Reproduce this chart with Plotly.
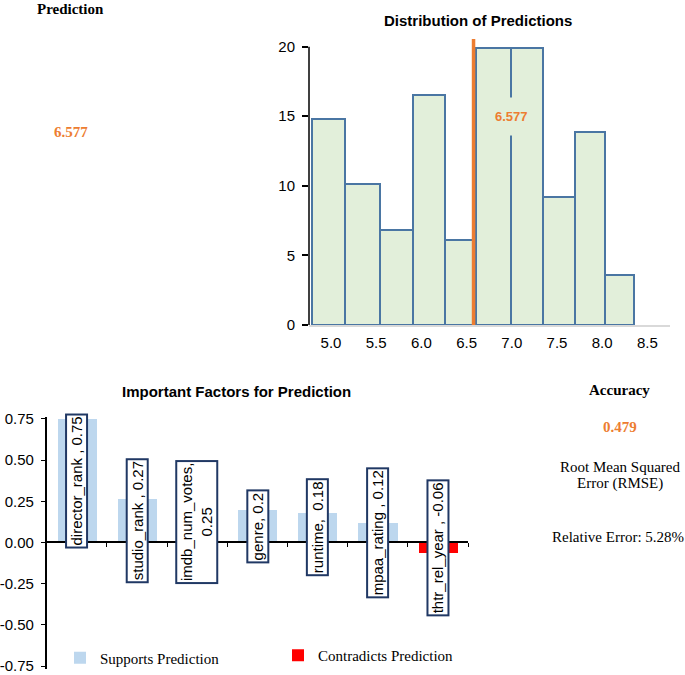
import plotly.graph_objects as go

W, H = 685, 675

# ---------------- data ----------------
prediction_value = 6.577
hist_bin_edges = [4.787, 5.158, 5.539, 5.904, 6.261, 6.601, 6.988, 7.348, 7.699, 8.034, 8.355]
hist_counts = [14.8, 10.1, 6.8, 16.5, 6.1, 19.9, 19.9, 9.2, 13.9, 3.6]
hist_xticks = [5.0, 5.5, 6.0, 6.5, 7.0, 7.5, 8.0, 8.5]
hist_yticks = [0, 5, 10, 15, 20]

factor_names = ["director_rank", "studio_rank", "imdb_num_votes", "genre", "runtime", "mpaa_rating", "thtr_rel_year"]
factor_values = [0.75, 0.27, 0.25, 0.2, 0.18, 0.12, -0.06]
factor_labels = ["director_rank , 0.75", "studio_rank , 0.27", "imdb_num_votes,<br>0.25", "genre, 0.2",
                 "runtime,  0.18", "mpaa_rating , 0.12", "thtr_rel_year , -0.06"]
factor_yticks = [-0.75, -0.5, -0.25, 0.0, 0.25, 0.5, 0.75]

accuracy_rmse = 0.479
relative_error = "5.28%"

# ---------------- helpers ----------------
def px_x(p):
    return p / W

def px_y(p):
    return 1 - p / H

ORANGE = "#ed7d31"
SANS = "Liberation Sans, Arial, sans-serif"
SERIF = "Liberation Serif, Times New Roman, serif"

fig = go.Figure()

# ---- histogram ----
centers = [(a + b) / 2 for a, b in zip(hist_bin_edges[:-1], hist_bin_edges[1:])]
widths = [b - a for a, b in zip(hist_bin_edges[:-1], hist_bin_edges[1:])]
fig.add_trace(go.Bar(x=centers, y=hist_counts, width=widths, xaxis="x", yaxis="y",
                     marker=dict(color="#e2efda", line=dict(color="#4a76a3", width=2)),
                     showlegend=False, hoverinfo="skip"))

# ---- factor bars ----
idx = list(range(len(factor_names)))
sup = [v if v > 0 else None for v in factor_values]
con = [v if v < 0 else None for v in factor_values]
fig.add_trace(go.Bar(x=idx, y=sup, width=0.65, xaxis="x2", yaxis="y2", name="Supports Prediction",
                     marker=dict(color="#bdd7ee", line=dict(width=0)), legend="legend"))
fig.add_trace(go.Bar(x=idx, y=con, width=0.65, xaxis="x2", yaxis="y2", name="Contradicts Prediction",
                     marker=dict(color="#ff0000", line=dict(width=0)), legend="legend2"))

# domains
hx_dom = [px_x(309), px_x(670)]
hy_dom = [px_y(325), px_y(39)]
hy_range = [0, 20.55]
bx_dom = [px_x(46.7), px_x(468)]
by_range = [-0.77, 0.765]
y_top_px, y_px_per_unit = 416.5, 164.7
by_dom = [px_y(y_top_px + (by_range[1] - by_range[0]) * y_px_per_unit), px_y(y_top_px)]
zero_pos = by_dom[0] + (0 - by_range[0]) / (by_range[1] - by_range[0]) * (by_dom[1] - by_dom[0])

fig.update_layout(
    width=W, height=H, margin=dict(l=0, r=0, t=0, b=0, autoexpand=False),
    paper_bgcolor="white", plot_bgcolor="rgba(0,0,0,0)",
    barmode="overlay", bargap=0,
    xaxis=dict(domain=hx_dom, range=[4.757, 8.75], anchor="y", tickvals=hist_xticks,
               ticktext=[f"{t:.1f}" for t in hist_xticks], showline=True, linecolor="#d9d9d9",
               linewidth=1.5, ticks="", showgrid=False, zeroline=False, ticklabelstandoff=3,
               tickfont=dict(family=SANS, size=15, color="#000")),
    yaxis=dict(domain=hy_dom, range=hy_range, anchor="x", tickvals=hist_yticks, showline=False,
               ticks="outside", ticklen=6, tickcolor="#000", tickwidth=1.5, showgrid=False, zeroline=False,
               ticklabelstandoff=4, tickfont=dict(family=SANS, size=15, color="#000")),
    xaxis2=dict(domain=bx_dom, range=[-0.5, len(factor_names) - 0.5], anchor="free", position=zero_pos,
                tickvals=[i - 0.5 for i in range(len(factor_names) + 1)], showticklabels=False,
                ticks="outside", ticklen=4, tickcolor="#000", showline=True, linecolor="#000",
                linewidth=1.5, showgrid=False, zeroline=False),
    yaxis2=dict(domain=by_dom, range=by_range, anchor="x2", tickvals=factor_yticks,
                ticktext=[f"{t:.2f}" for t in factor_yticks], showline=True, linecolor="#000",
                linewidth=1.5, ticks="outside", ticklen=4, tickcolor="#000", showgrid=False,
                zeroline=False, ticklabelstandoff=4, ticklabeloverflow="allow",
                tickfont=dict(family=SANS, size=15, color="#000")),
    legend=dict(x=px_x(60), y=px_y(658), xanchor="left", yanchor="middle", orientation="h",
                font=dict(family=SERIF, size=15, color="#000"), bgcolor="rgba(0,0,0,0)"),
    legend2=dict(x=px_x(278), y=px_y(655.5), xanchor="left", yanchor="middle", orientation="h",
                 font=dict(family=SERIF, size=15, color="#000"), bgcolor="rgba(0,0,0,0)"),
)

# histogram y axis line (0 to top tick)
fig.add_shape(type="line", xref="x domain", yref="y", x0=0, x1=0, y0=hist_yticks[0], y1=hist_yticks[-1],
              line=dict(color="#000", width=1.5))
# prediction line
fig.add_shape(type="line", xref="x", yref="y", x0=prediction_value, x1=prediction_value, y0=0, y1=hy_range[1],
              line=dict(color=ORANGE, width=3.5))

annotations = []

def note(x, y, text, font, **kw):
    d = dict(x=x, y=y, xref="paper", yref="paper", text=text, showarrow=False,
             xanchor="center", yanchor="middle", font=font)
    d.update(kw)
    annotations.append(d)

note(7.0, 15.0, f"<b>{prediction_value}</b>", dict(family=SANS, size=13, color=ORANGE),
     xref="x", yref="y", bgcolor="#e2efda", borderpad=11)
# titles
note(px_x(478.3), px_y(20), "<b>Distribution of Predictions</b>", dict(family=SANS, size=15, color="#000"))
note(px_x(236.7), px_y(391.7), "<b>Important Factors for Prediction</b>", dict(family=SANS, size=15, color="#000"))
# left / right text panels
note(px_x(70.3), px_y(8.5), "<b>Prediction</b>", dict(family=SERIF, size=15, color="#000"))
note(px_x(70.5), px_y(132), f"<b>{prediction_value}</b>", dict(family=SERIF, size=15, color=ORANGE))
note(px_x(619), px_y(390), "<b>Accuracy</b>", dict(family=SERIF, size=15, color="#000"))
note(px_x(619.5), px_y(427.3), f"<b>{accuracy_rmse}</b>", dict(family=SERIF, size=15, color=ORANGE))
note(px_x(619.5), px_y(466.7), "Root Mean Squared", dict(family=SERIF, size=15, color="#000"))
note(px_x(620), px_y(483.3), "Error (RMSE)", dict(family=SERIF, size=15, color="#000"))
note(px_x(618), px_y(536.7), f"Relative Error: {relative_error}", dict(family=SERIF, size=15, color="#000"))

# factor labels (boxed, rotated), centred at half the bar value
for i, (lab, v) in enumerate(zip(factor_labels, factor_values)):
    note(i, v / 2, lab, dict(family=SANS, size=15, color="#000"), xref="x2", yref="y2", textangle=-90,
         bgcolor="white", bordercolor="#203864", borderwidth=2, borderpad=1)

fig.update_layout(annotations=annotations)

fig.write_html("out.html", config={"displayModeBar": False},
               post_script="document.body.style.margin='0';")
